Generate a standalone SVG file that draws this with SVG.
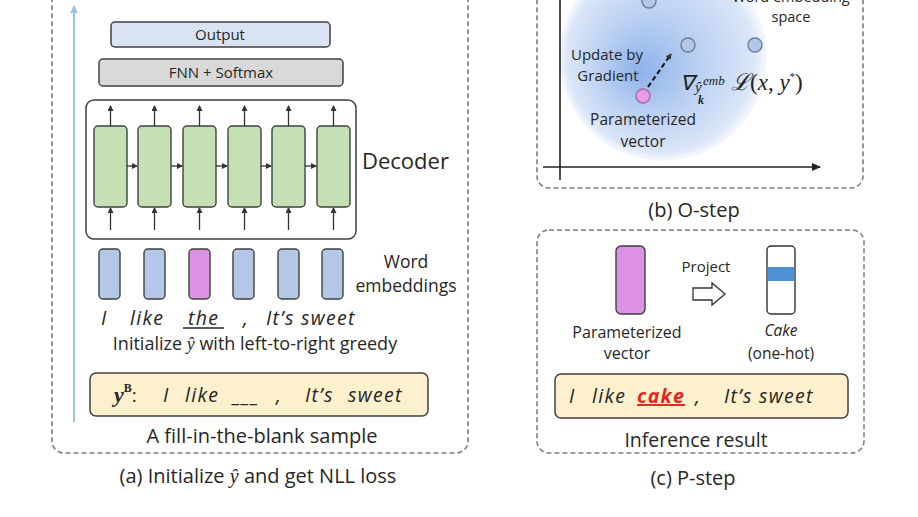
<svg xmlns="http://www.w3.org/2000/svg" width="918" height="517" viewBox="0 0 918 517">
<defs>
<style>
text{font-family:"Open Sans","Noto Sans","Liberation Sans",sans-serif;fill:#262626}
.panel{fill:none;stroke:#7f7f7f;stroke-width:1.6;stroke-dasharray:5 3}
.box{stroke:#404040;stroke-width:1.5}
.cell{fill:#c5e0b4;stroke:#404040;stroke-width:1.4}
.emb{fill:#b4c7e7;stroke:#404040;stroke-width:1.4}
.pur{fill:#dc92e2;stroke:#404040;stroke-width:1.4}
.arr{stroke:#333;stroke-width:1.3;fill:none;marker-end:url(#ah)}
.it{font-style:italic}
.sent{font-style:italic;font-size:19.5px;letter-spacing:1.3px}
.ser{font-family:"Liberation Serif","DejaVu Serif",serif}
.dot{fill:#b4c7e7;stroke:#6c7d98;stroke-width:1.4}
.red{fill:#e3261f;font-weight:bold}
.math{fill:#222}
.cap{font-size:20px}
</style>
<marker id="ah" markerWidth="6" markerHeight="6" refX="5" refY="3" orient="auto" markerUnits="userSpaceOnUse">
<path d="M0,0 L6,3 L0,6 z" fill="#333"/>
</marker>
<marker id="ahb" markerWidth="8" markerHeight="8" refX="7" refY="4" orient="auto" markerUnits="userSpaceOnUse">
<path d="M0,0 L8,4 L0,8 z" fill="#9dc3e6"/>
</marker>
<marker id="ahk" markerWidth="9" markerHeight="8" refX="8" refY="4" orient="auto" markerUnits="userSpaceOnUse">
<path d="M0,0 L9,4 L0,8 z" fill="#222"/>
</marker>
<radialGradient id="blob" cx="663" cy="57" r="104" fx="638" fy="72" gradientUnits="userSpaceOnUse">
<stop offset="0" stop-color="#8db1ea"/>
<stop offset="0.45" stop-color="#b9cff2"/>
<stop offset="0.9" stop-color="#dbe6f8"/>
<stop offset="1" stop-color="#eef3fc" stop-opacity="0.6"/>
</radialGradient>
</defs>

<!-- Panel (a) -->
<g id="panel-a">
<rect class="panel" x="52" y="-20" width="416" height="473" rx="12"/>
<line x1="74" y1="422" x2="74" y2="6" stroke="#9dc3e6" stroke-width="2" marker-end="url(#ahb)"/>
</g>
<g id="output">
<rect class="box" x="111" y="22" width="219" height="25" rx="4" fill="#dae3f3"/>
<text x="220" y="40" font-size="15" text-anchor="middle">Output</text>
</g>
<g id="fnn">
<rect class="box" x="99" y="59" width="244" height="27" rx="4" fill="#d9d9d9"/>
<text x="221" y="78" font-size="15" text-anchor="middle">FNN + Softmax</text>
</g>
<g id="decoder">
<rect class="box" x="86" y="100" width="270" height="139" rx="8" fill="#fff"/>
<rect class="cell" x="94" y="126" width="33" height="81" rx="4"/>
<rect class="cell" x="138" y="126" width="33" height="81" rx="4"/>
<rect class="cell" x="183" y="126" width="33" height="81" rx="4"/>
<rect class="cell" x="228" y="126" width="33" height="81" rx="4"/>
<rect class="cell" x="272" y="126" width="33" height="81" rx="4"/>
<rect class="cell" x="317" y="126" width="33" height="81" rx="4"/>
<text x="362" y="169" font-size="22">Decoder</text>
</g>
<g id="decoder-connectors">
<line class="arr" x1="110.5" y1="126" x2="110.5" y2="106"/>
<line class="arr" x1="154.5" y1="126" x2="154.5" y2="106"/>
<line class="arr" x1="199.5" y1="126" x2="199.5" y2="106"/>
<line class="arr" x1="244.5" y1="126" x2="244.5" y2="106"/>
<line class="arr" x1="288.5" y1="126" x2="288.5" y2="106"/>
<line class="arr" x1="333.5" y1="126" x2="333.5" y2="106"/>
<line class="arr" x1="110.5" y1="230" x2="110.5" y2="208"/>
<line class="arr" x1="154.5" y1="230" x2="154.5" y2="208"/>
<line class="arr" x1="199.5" y1="230" x2="199.5" y2="208"/>
<line class="arr" x1="244.5" y1="230" x2="244.5" y2="208"/>
<line class="arr" x1="288.5" y1="230" x2="288.5" y2="208"/>
<line class="arr" x1="333.5" y1="230" x2="333.5" y2="208"/>
<line class="arr" x1="127" y1="166" x2="137" y2="166"/>
<line class="arr" x1="171" y1="166" x2="182" y2="166"/>
<line class="arr" x1="216" y1="166" x2="227" y2="166"/>
<line class="arr" x1="261" y1="166" x2="271" y2="166"/>
<line class="arr" x1="305" y1="166" x2="316" y2="166"/>
</g>
<g id="embeddings">
<rect class="emb" x="99" y="249" width="21" height="50" rx="4"/>
<rect class="emb" x="144" y="249" width="21" height="50" rx="4"/>
<rect class="pur" x="189" y="249" width="21" height="50" rx="4"/>
<rect class="emb" x="233" y="249" width="21" height="50" rx="4"/>
<rect class="emb" x="278" y="249" width="21" height="50" rx="4"/>
<rect class="emb" x="322" y="249" width="21" height="50" rx="4"/>
<text x="406" y="268" font-size="17.5" text-anchor="middle">Word</text>
<text x="406" y="292" font-size="17.5" text-anchor="middle">embeddings</text>
</g>
<g id="greedy-sentence">
<text class="sent" x="101" y="325">I</text>
<text class="sent" x="130" y="325">like</text>
<text class="sent" x="188" y="325">the</text>
<line x1="183" y1="328" x2="224" y2="328" stroke="#262626" stroke-width="1.3"/>
<text class="sent" x="243" y="325">,</text>
<text class="sent" x="266" y="325">It’s sweet</text>
<text x="255" y="350" font-size="18" text-anchor="middle">Initialize <tspan class="ser it">ŷ</tspan> with left-to-right greedy</text>
</g>
<g id="sample">
<rect class="box" x="90" y="373" width="338" height="43" rx="6" fill="#fdf0cd"/>
<text x="114" y="402" font-size="19"><tspan class="ser it" font-weight="bold" font-size="22">y</tspan><tspan class="ser" font-weight="bold" font-size="12" dy="-10">B</tspan><tspan dy="10">:</tspan></text>
<text class="sent" x="163" y="402">I</text>
<text class="sent" x="185" y="402">like</text>
<text class="sent" x="233" y="402">___</text>
<text class="sent" x="276" y="402">,</text>
<text class="sent" x="305" y="402">It’s</text>
<text class="sent" x="348" y="402">sweet</text>
</g>
<text id="fill-caption" x="262" y="443" font-size="20" text-anchor="middle">A fill-in-the-blank sample</text>
<text id="caption-a" class="cap" x="258" y="483" text-anchor="middle">(a) Initialize <tspan class="ser it">ŷ</tspan>  and get NLL loss</text>

<!-- Panel (b) -->
<g id="panel-b">
<rect class="panel" x="537" y="-20" width="326" height="208" rx="12"/>
<circle cx="663" cy="57" r="104" fill="url(#blob)"/>
<line x1="560" y1="-2" x2="560" y2="180" stroke="#222" stroke-width="1.6"/>
<line x1="543" y1="167" x2="820" y2="167" stroke="#222" stroke-width="1.6" marker-end="url(#ahk)"/>
</g>
<g id="word-points">
<circle class="dot" cx="649" cy="1" r="7"/>
<circle class="dot" cx="688" cy="45" r="7"/>
<circle class="dot" cx="755" cy="45" r="7"/>
<text x="791" y="2" font-size="14.5" text-anchor="middle">Word embedding</text>
<text x="791" y="22" font-size="14.5" text-anchor="middle">space</text>
</g>
<g id="param-point">
<circle cx="643" cy="96" r="7" fill="#e79be8" stroke="#a56aa8" stroke-width="1.4"/>
<text x="643" y="125" font-size="15.5" text-anchor="middle">Parameterized</text>
<text x="643" y="147" font-size="15.5" text-anchor="middle">vector</text>
</g>
<g id="gradient-update">
<line x1="648" y1="87" x2="671" y2="54" stroke="#111" stroke-width="2" stroke-dasharray="5 3" marker-end="url(#ah)"/>
<text x="607" y="60" font-size="15" text-anchor="middle" fill="#1f2a44">Update by</text>
<text x="608" y="81" font-size="15" text-anchor="middle">Gradient</text>
<text class="it math" x="680" y="90" font-size="21" font-family="DejaVu Sans" font-weight="200">∇</text>
<text class="ser it math" x="695" y="92" font-size="15">ŷ</text>
<text class="ser it math" x="703" y="85" font-size="13">emb</text>
<text class="ser it math" x="698" y="104" font-size="12" font-weight="bold">k</text>
<text class="ser math" x="731" y="90" font-size="23"><tspan class="it">ℒ</tspan>(<tspan class="it">x</tspan>, <tspan class="it">y</tspan><tspan font-size="11" dy="-10">*</tspan><tspan dy="10">)</tspan></text>
</g>
<text id="caption-b" class="cap" x="694" y="217" text-anchor="middle">(b) O-step</text>

<!-- Panel (c) -->
<g id="panel-c">
<rect class="panel" x="537" y="230" width="327" height="223" rx="12"/>
</g>
<g id="param-vector">
<rect x="616" y="246" width="29" height="68" rx="5" fill="#dc92e2" stroke="#404040" stroke-width="1.4"/>
<text x="627" y="338" font-size="16" text-anchor="middle">Parameterized</text>
<text x="627" y="359" font-size="16" text-anchor="middle">vector</text>
</g>
<g id="project">
<text x="706" y="272" font-size="15" text-anchor="middle">Project</text>
<polygon points="693,288 712,288 712,283 725,294 712,305 712,300 693,300" fill="#fff" stroke="#333" stroke-width="1.3"/>
</g>
<g id="onehot">
<rect x="767" y="246" width="28" height="68" rx="4" fill="#fff" stroke="#333" stroke-width="1.4"/>
<rect x="767.7" y="267" width="26.6" height="14" fill="#4f8fd6"/>
<text class="it" x="781" y="336" font-size="15.5" text-anchor="middle">Cake</text>
<text x="781" y="359" font-size="15.5" text-anchor="middle">(one-hot)</text>
</g>
<g id="result">
<rect class="box" x="555" y="374" width="293" height="44" rx="6" fill="#fdf0cd"/>
<text class="sent" x="569" y="403">I</text>
<text class="sent" x="592" y="403">like</text>
<text class="sent red" x="637" y="403" text-decoration="underline">cake</text>
<text class="sent" x="695" y="403">,</text>
<text class="sent" x="724" y="403">It’s sweet</text>
</g>
<text id="inference-caption" x="696" y="447" font-size="19.5" text-anchor="middle">Inference result</text>
<text id="caption-c" class="cap" x="693" y="485" text-anchor="middle">(c) P-step</text>
</svg>
